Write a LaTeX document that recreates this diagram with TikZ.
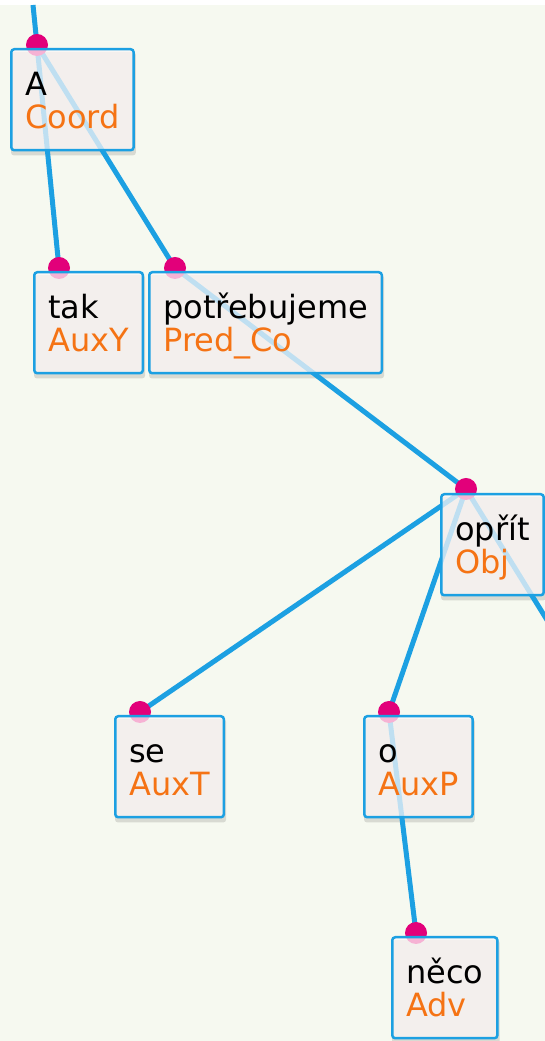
\documentclass[tikz,border=0pt]{standalone}
\usepackage{fontspec}
\setmainfont{DejaVu Sans}
\definecolor{treebg}{RGB}{246,249,240}
\definecolor{edgeblue}{RGB}{28,160,226}
\definecolor{knotpink}{RGB}{226,0,122}
\definecolor{boxfill}{RGB}{254,248,248}
\definecolor{deprel}{RGB}{245,115,20}
\pgfdeclarelayer{back}
\pgfdeclarelayer{mid}
\pgfsetlayers{back,mid,main}
\newcommand{\tword}[2]{\rule{0pt}{46pt}#1\\\textcolor{deprel}{#2}\rule[-22pt]{0pt}{22pt}}
\begin{document}
\begin{tikzpicture}[x=1pt,y=1pt,
    word/.style={draw=edgeblue, line width=2.5pt, rounded corners=3pt,
      fill=boxfill, fill opacity=0.72, draw opacity=1, text opacity=1,
      align=left, anchor=north west, inner xsep=14pt, inner ysep=0pt,
      font=\fontsize{32}{33}\selectfont},
    edge/.style={edgeblue, line width=5pt},
    knot/.style={fill=knotpink}]
  \useasboundingbox (0,0) rectangle (545,1041);
  \clip (0,0) rectangle (545,1041);

  % knots of the tree
  \coordinate (root) at (33,1036);
  \coordinate (dA) at (37,996);
  \coordinate (dTak) at (59,773);
  \coordinate (dPot) at (175,773);
  \coordinate (dOpr) at (466,552);
  \coordinate (dSe) at (140,329);
  \coordinate (dO) at (389,329);
  \coordinate (dNeco) at (416,108);
  \coordinate (off) at (560,400);

  % word boxes
  \node[word] (A) at ([shift={(-27,-3)}]dA) {\tword{A}{Coord}};
  \node[word] (tak) at ([shift={(-26,-3)}]dTak) {\tword{tak}{AuxY}};
  \node[word] (pot) at ([shift={(-27,-3)}]dPot) {\tword{potřebujeme}{Pred\_Co}};
  \node[word] (opr) at ([shift={(-26,-4)}]dOpr) {\tword{opřít}{Obj}};
  \node[word] (se) at ([shift={(-26,-3)}]dSe) {\tword{se}{AuxT}};
  \node[word] (o) at ([shift={(-26,-3)}]dO) {\tword{o}{AuxP}};
  \node[word] (neco) at ([shift={(-25,-3)}]dNeco) {\tword{něco}{Adv}};

  \begin{pgfonlayer}{back}
    \fill[white] (0,0) rectangle (545,1041);
    \fill[treebg] (0,0) rectangle (545,1036);
    \foreach \n in {A,tak,pot,opr,se,o,neco}
      \fill[black, opacity=0.12, rounded corners=3pt]
        ([shift={(1,-4)}]\n.south west) rectangle ([shift={(1,-4)}]\n.north east);
  \end{pgfonlayer}

  \begin{pgfonlayer}{mid}
    \draw[edge] (root) -- (dA);
    \draw[edge] (dA) -- (dTak);
    \draw[edge] (dA) -- (dPot);
    \draw[edge] (dPot) -- (dOpr);
    \draw[edge] (dOpr) -- (dSe);
    \draw[edge] (dOpr) -- (dO);
    \draw[edge] (dOpr) -- (off);
    \draw[edge] (dO) -- (dNeco);
    \foreach \d in {dA,dTak,dPot,dOpr,dSe,dO,dNeco}
      \fill[knot] (\d) circle (11);
  \end{pgfonlayer}
\end{tikzpicture}
\end{document}
